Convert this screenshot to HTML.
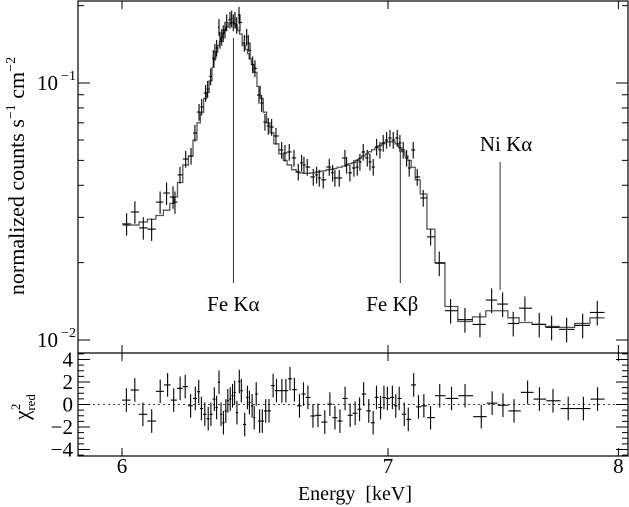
<!DOCTYPE html>
<html><head><meta charset="utf-8"><style>
html,body{margin:0;padding:0;background:#fff;}
svg{display:block;}
svg text{font-family:"Liberation Serif","DejaVu Serif",serif;}
</style></head><body>
<svg id="chart" width="629" height="507" viewBox="0 0 629 507" font-family="Liberation Serif, serif"></svg>
<script>
const energies=[6.016,6.045,6.0745,6.104,6.134,6.157,6.180,6.187,6.205,6.2256,6.245,6.259,6.274,6.2836,6.298,6.3054,6.3165,6.326,6.332,6.3384,6.347,6.3506,6.357,6.3627,6.369,6.3753,6.3875,6.3938,6.3998,6.406,6.4124,6.421,6.4246,6.4407,6.4496,6.4556,6.462,6.472,6.4806,6.4957,6.5058,6.5183,6.5307,6.5436,6.56,6.5817,6.5943,6.6107,6.6288,6.6453,6.6584,6.6673,6.68,6.7033,6.7165,6.7267,6.7422,6.7657,6.779,6.788,6.805,6.8275,6.8342,6.8473,6.8632,6.8764,6.8871,6.9003,6.9163,6.9272,6.9404,6.9541,6.9674,6.9807,6.9945,7.0079,7.0213,7.0376,7.0486,7.0621,7.076,7.0867,7.1031,7.1196,7.1444,7.1752,7.2111,7.2587,7.3193,7.3832,7.4334,7.4809,7.527,7.5782,7.6413,7.6964,7.7636,7.8361,7.9027];
const counts=[.0283,.0315,.0273,.0270,.0344,.0373,.0360,.0344,.0439,.0506,.0520,.0639,.0771,.0807,.0914,.0948,.106,.125,.132,.137,.165,.147,.151,.156,.161,.172,.176,.178,.172,.176,.168,.184,.172,.143,.151,.143,.134,.118,.114,.0898,.0836,.0705,.0680,.0674,.0622,.0549,.0534,.0539,.0511,.0451,.0489,.0480,.0471,.0431,.0439,.0427,.0420,.0471,.0447,.0427,.0427,.0511,.0480,.0447,.0467,.0471,.0493,.0539,.0511,.0493,.0471,.0564,.0549,.0584,.0600,.0611,.0600,.0611,.0584,.0549,.0511,.0467,.0549,.0431,.0357,.0252,.0199,.0130,.0120,.0115,.0143,.0138,.0116,.0133,.0115,.0112,.0110,.0114,.0128];
const model=[.0280,.0280,.0288,.0295,.0305,.0320,.0340,.0360,.041,.048,.052,.060,.070,.077,.087,.092,.102,.115,.124,.132,.140,.145,.150,.156,.160,.165,.170,.172,.172,.170,.165,.160,.155,.140,.135,.130,.124,.118,.110,.097,.087,.077,.070,.064,.058,.053,.050,.048,.046,.045,.0447,.0445,.0445,.0447,.045,.0452,.0455,.046,.0462,.0465,.047,.0475,.048,.0485,.049,.050,.051,.052,.053,.054,.055,.056,.057,.058,.059,.059,.059,.058,.056,.054,.052,.050,.047,.042,.037,.027,.020,.0135,.0118,.0123,.0130,.0130,.0122,.0117,.0115,.0113,.0112,.0116,.0122];
const resEnergies=[6.0153,6.0447,6.0731,6.1042,6.1343,6.1607,6.1825,6.2055,6.2239,6.2434,6.2605,6.2728,6.2826,6.2950,6.3074,6.3173,6.3298,6.3382,6.3470,6.3544,6.3632,6.3721,6.3795,6.3884,6.3969,6.4047,6.4133,6.4221,6.4296,6.4422,6.4524,6.4598,6.4699,6.4778,6.4853,6.4981,6.5082,6.5211,6.5336,6.5491,6.5620,6.5826,6.5979,6.6136,6.6305,6.6500,6.6655,6.6825,6.7022,6.7216,6.7482,6.7682,6.7882,6.8079,6.8281,6.8481,6.8681,6.8857,6.9020,6.9225,6.9401,6.9534,6.9700,6.9837,6.9975,7.0178,7.0317,7.0456,7.0664,7.0828,7.1050,7.1248,7.1471,7.1749,7.2132,7.2626,7.3197,7.3888,7.4356,7.4823,7.5305,7.5900,7.6422,7.7025,7.7707,7.8394,7.9040];
const residuals=[.39,1.29,-.87,-1.47,1.17,1.74,.39,1.44,1.59,-.12,.54,1.14,-.36,-.87,-1.26,-.87,.48,-.27,1.98,-.87,-1.62,-.57,.33,.48,.78,1.08,-.72,2.04,1.23,-1.77,.63,.18,-.12,-1.17,.93,-1.47,-1.47,-.57,-.57,1.68,1.23,1.23,1.23,2.28,1.32,-.12,.93,.63,-1.02,-.96,-1.56,.03,-1.17,-1.47,.54,-.96,-.78,-.42,.93,-.57,-1.62,.63,-.27,.63,.54,.63,-.12,.54,-.87,-1.32,1.74,-.21,-.12,-1.17,.78,.54,.78,-1.08,.12,-.06,-.57,1.08,.48,.33,-.36,-.36,.48];
const lineNames=["Fe Kα","Fe Kβ","Ni Kα"];
const lineEnergies=[6.40,7.05,7.47];
const xTicks=[6,7,8];
const resTicks=[4,2,0,-2,-4];

const svg=document.getElementById('chart');
const NS='http://www.w3.org/2000/svg';
const FONT='Liberation Serif, serif';
const L=78,R=628,T=1,MID=353,B=456;
const X=e=>122+3973*Math.log10(e/6);
const Y=v=>83-257*Math.log10(v/0.1);
const YR=r=>404.5-11.25*r;
function mk(tag,attrs,parent){const el=document.createElementNS(NS,tag);for(const k in attrs)el.setAttribute(k,attrs[k]);if(tag==='text')el.setAttribute('font-family',FONT);(parent||svg).appendChild(el);return el;}
function edges(arr){const lo=[],hi=[];for(let i=0;i<arr.length;i++){const p=i>0?(arr[i]+arr[i-1])/2:arr[i]-(arr[i+1]-arr[i])/2;const n=i<arr.length-1?(arr[i]+arr[i+1])/2:arr[i]+(arr[i]-arr[i-1])/2;lo.push(p);hi.push(n);}return [lo,hi];}

const fr=mk('g',{});


mk('rect',{x:L,y:T,width:R-L,height:B-T,fill:'none',stroke:'#000','stroke-width':1.2},fr);
mk('line',{x1:L,x2:R,y1:MID,y2:MID,stroke:'#000','stroke-width':1.2},fr);
mk('line',{x1:L,x2:R,y1:YR(0),y2:YR(0),stroke:'#000','stroke-width':0.8,'stroke-dasharray':'2,3'},fr);

const xt=mk('g',{stroke:'#000','stroke-width':1});


xTicks.forEach(t=>{const x=X(t);
  mk('line',{x1:x,x2:x,y1:T,y2:T+8},xt);mk('line',{x1:x,x2:x,y1:MID,y2:MID-8},xt);
  mk('line',{x1:x,x2:x,y1:MID,y2:MID+8},xt);mk('line',{x1:x,x2:x,y1:B,y2:B-8},xt);
  const lb=mk('text',{x:x,y:473,'font-size':21,'text-anchor':'middle',stroke:'none',fill:'#000'},xt);lb.textContent=t;
  
  
});

const yt=mk('g',{stroke:'#000','stroke-width':1});


[0.01,0.1].forEach(dec=>{for(let m=1;m<10;m++){const v=dec*m;const y=Y(v);if(y<T||y>MID)continue;const len=m===1?12:6;
  mk('line',{x1:L,x2:L+len,y1:y,y2:y},yt);mk('line',{x1:R,x2:R-len,y1:y,y2:y},yt);}});
[[0.1,'1'],[0.01,'2']].forEach(([v,e])=>{const t=mk('text',{x:58,y:Y(v)+7,'font-size':21,'text-anchor':'end',fill:'#000',stroke:'none'},yt);t.textContent='10';
  const s=mk('text',{x:76,y:Y(v)-3,'font-size':14,'text-anchor':'end',fill:'#000',stroke:'none'},yt);s.textContent='−'+e;});
for(let r=-4.5;r<=4.5;r+=0.5){const y=YR(r);const len=(Math.abs(r)%2===0)?12:6;
  mk('line',{x1:L,x2:L+len,y1:y,y2:y},yt);mk('line',{x1:R,x2:R-len,y1:y,y2:y},yt);}
resTicks.forEach(r=>{const t=mk('text',{x:73,y:YR(r)+7,'font-size':21,'text-anchor':'end',fill:'#000',stroke:'none'},yt);t.textContent=r<0?'−'+(-r):r;
  
  });

const yTitle=mk('text',{transform:'translate(24,176) rotate(-90)','font-size':22,'text-anchor':'middle',fill:'#000'});
yTitle.innerHTML='normalized counts s<tspan dy="-9" font-size="14">−1</tspan><tspan dy="9"> cm</tspan><tspan dy="-9" font-size="14">−2</tspan>';


const rTitle=mk('text',{transform:'translate(29,407) rotate(-90)','font-size':22,'text-anchor':'middle',fill:'#000'});
rTitle.innerHTML='χ<tspan dy="-9" font-size="13">2</tspan><tspan dx="-7" dy="15" font-size="13">red</tspan>';


const xTitle=mk('text',{x:355,y:500,'font-size':20,'text-anchor':'middle',fill:'#000'});
xTitle.textContent='Energy\u00a0\u00a0[keV]';



const [lo,hi]=edges(energies);
let d='';
energies.forEach((e,i)=>{const y=Y(model[i]);d+=(i===0?'M':'L')+X(lo[i])+','+y+'L'+X(hi[i])+','+y;});
const mp=mk('path',{d:d,fill:'none',stroke:'#555','stroke-width':1.3});



const dg=mk('g',{stroke:'#000','stroke-width':1.1});


energies.forEach((e,i)=>{const x=X(e),y=Y(counts[i]);const f=e>7.2?0.11:(e<6.2?0.1:0.075);
  const g=mk('g',{},dg);
  
  
  mk('line',{x1:X(lo[i]),x2:X(hi[i]),y1:y,y2:y},g);
  mk('line',{x1:x,x2:x,y1:Y(counts[i]*(1+f)),y2:Y(counts[i]*(1-f))},g);});

const [rlo,rhi]=edges(resEnergies);
const rg=mk('g',{stroke:'#000','stroke-width':1.1});


resEnergies.forEach((e,i)=>{const x=X(e),y=YR(residuals[i]);
  const g=mk('g',{},rg);
  
  
  mk('line',{x1:X(rlo[i]),x2:X(rhi[i]),y1:y,y2:y},g);
  mk('line',{x1:x,x2:x,y1:YR(residuals[i]+1.05),y2:YR(residuals[i]-1.05)},g);});

const lineTop=[38,145,162],lineBot=[283,283,290],labY=[311,311,151],labDx=[0,-8,6];
lineNames.forEach((n,i)=>{const x=X(lineEnergies[i]);
  const g=mk('g',{});
  
  
  mk('line',{x1:x,x2:x,y1:lineTop[i],y2:lineBot[i],stroke:'#000','stroke-width':0.8},g);
  const t=mk('text',{x:x+labDx[i],y:labY[i],'font-size':21,'text-anchor':'middle',fill:'#000'},g);t.textContent=n;});
</script>
</body></html>
